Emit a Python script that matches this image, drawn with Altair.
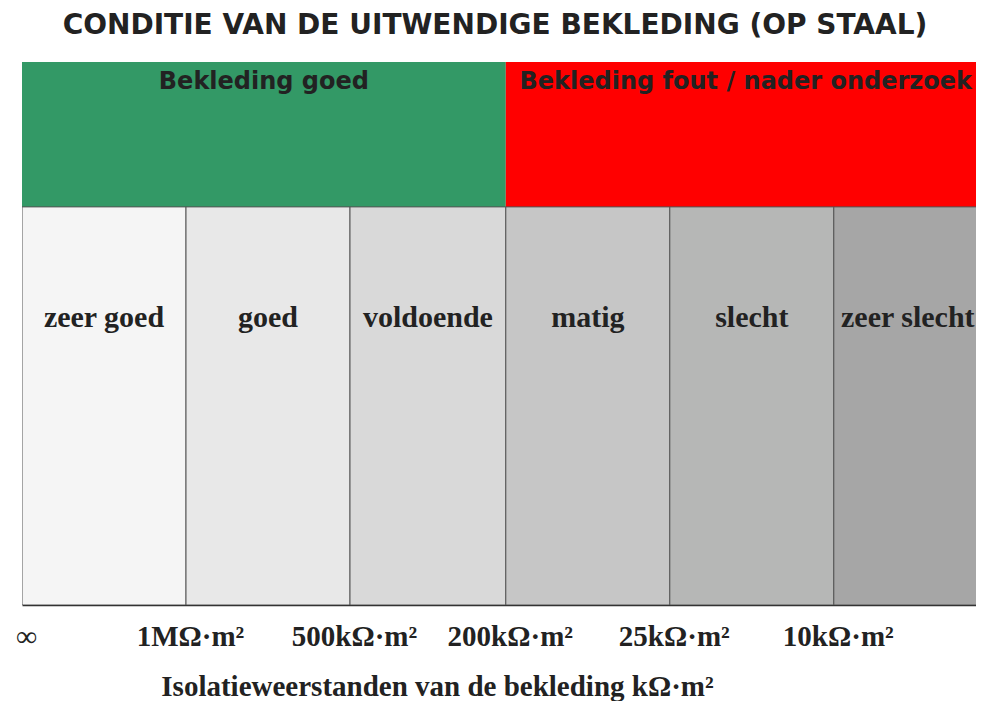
import json
import altair as alt
import pandas as pd

# ---- data ----
edges = [0, 1, 2, 2.95, 3.95, 4.95, 5.95]
tick_labels = ["∞", "1MΩ·m²", "500kΩ·m²", "200kΩ·m²", "25kΩ·m²", "10kΩ·m²"]
cell_labels = ["zeer goed", "goed", "voldoende", "matig", "slecht", "zeer slecht"]
cell_colors = ["#f5f5f5", "#e8e8e8", "#d9d9d9", "#c6c6c6", "#b6b7b6", "#a6a6a6"]
band_labels = ["Bekleding goed", "Bekleding fout / nader onderzoek"]
band_edges = [0, 2.95, 5.95]
band_colors = ["#339966", "#ff0000"]

cells = pd.DataFrame({
    "start": edges[:-1],
    "end": edges[1:],
    "label": cell_labels,
    "color": cell_colors,
    "idx": list(range(len(cell_labels))),
})
cells["mid"] = (cells["start"] + cells["end"]) / 2

bands = pd.DataFrame({
    "start": band_edges[:-1],
    "end": band_edges[1:],
    "label": band_labels,
    "color": band_colors,
    "idx": [0, 1],
})
bands["mid"] = (bands["start"] + bands["end"]) / 2

label_expr = "{}[indexof({}, datum.value)]".format(
    json.dumps(tick_labels, ensure_ascii=False), json.dumps(edges[:-1])
)

xscale = alt.Scale(domain=[0, 5.817], nice=False, zero=False)
yscale = alt.Scale(domain=[0, 136.4], nice=False, zero=False)

x_axis = alt.Axis(
    values=edges[:-1],
    labelExpr=label_expr,
    grid=False,
    ticks=False,
    tickSize=0,
    domain=True,
    domainColor="#333333",
    domainWidth=1.5,
    labelFont="Liberation Serif",
    labelFontWeight="bold",
    labelFontSize=29,
    labelColor="#222222",
    labelBaseline="middle",
    labelPadding=31,
    labelOffset=4,
    labelOverlap=False,
    labelFlush=False,
    title="Isolatieweerstanden van de bekleding kΩ·m²",
    titleFont="Liberation Serif",
    titleFontWeight="bold",
    titleFontSize=29,
    titleColor="#222222",
    titleX=415,
    titleY=81,
    titleAlign="center",
    titleBaseline="middle",
)

band_rect = alt.Chart(bands).mark_rect(clip=True).encode(
    x=alt.X("start:Q", scale=xscale, axis=x_axis),
    x2="end:Q",
    y=alt.datum(100, scale=yscale, axis=None),
    y2=alt.datum(136.4),
    color=alt.Color("color:N", scale=None),
)

cell_rect = alt.Chart(cells).mark_rect(clip=True, stroke="#555555", strokeWidth=1).encode(
    x=alt.X("start:Q", scale=xscale),
    x2="end:Q",
    y=alt.datum(0, scale=yscale),
    y2=alt.datum(100),
    color=alt.Color("color:N", scale=None),
)

cell_text_enc = dict(
    x=alt.X("mid:Q", scale=xscale),
    y=alt.datum(72, scale=yscale),
    text="label:N",
)
cell_text_style = dict(
    font="Liberation Serif", fontWeight="bold", fontSize=30,
    color="#222222", baseline="middle", align="center",
)
cell_text = alt.Chart(cells).transform_filter("datum.idx < 5").mark_text(
    **cell_text_style
).encode(**cell_text_enc)
cell_text_last = alt.Chart(cells).transform_filter("datum.idx == 5").mark_text(
    dx=-8, **cell_text_style
).encode(**cell_text_enc)

band_text_enc = dict(
    x=alt.X("mid:Q", scale=xscale),
    y=alt.datum(131.4, scale=yscale),
    text="label:N",
)
band_text_style = dict(
    font="DejaVu Sans", fontWeight="bold", fontSize=24,
    color="#222222", baseline="middle", align="center",
)
band_text_good = alt.Chart(bands).transform_filter("datum.idx == 0").mark_text(
    **band_text_style
).encode(**band_text_enc)
band_text_bad = alt.Chart(bands).transform_filter("datum.idx == 1").mark_text(
    dx=-6, **band_text_style
).encode(**band_text_enc)

chart = alt.layer(
    band_rect, cell_rect, cell_text, cell_text_last, band_text_good, band_text_bad
).properties(
    width=954,
    height=543,
    autosize=alt.AutoSizeParams(type="none"),
    padding={"left": 14, "top": 54, "right": 0, "bottom": 96},
    title=alt.TitleParams(
        "CONDITIE VAN DE UITWENDIGE BEKLEDING (OP STAAL)",
        font="DejaVu Sans", fontWeight="bold", fontSize=28, color="#222222",
        anchor="middle", baseline="alphabetic", offset=0, dx=-4,
    ),
).configure_view(stroke=None)

chart.save("out.html", embed_options={"renderer": "svg", "actions": False})
